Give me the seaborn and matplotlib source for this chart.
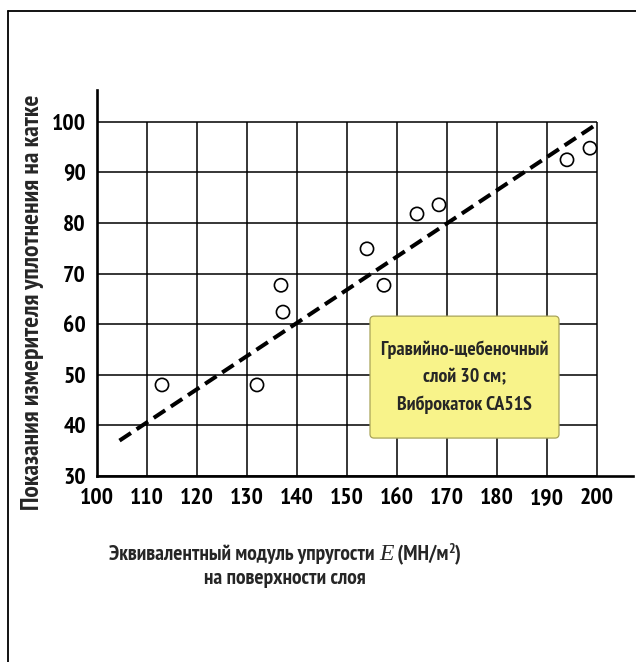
import matplotlib
matplotlib.use("Agg")
import matplotlib.pyplot as plt
from matplotlib.patches import FancyBboxPatch
from matplotlib.lines import Line2D
import seaborn as sns
import pandas as pd

# ---- data ----
modulus_E = [113, 132, 136.8, 137.2, 154, 157.4, 164, 168.4, 194, 198.6]
roller_reading = [48, 48, 67.7, 62.4, 74.9, 67.7, 81.8, 83.6, 92.5, 94.8]
trend_x = [104.5, 200]
trend_y = [37.0, 99.6]
x_ticks = [100, 110, 120, 130, 140, 150, 160, 170, 180, 190, 200]
y_ticks = [30, 40, 50, 60, 70, 80, 90, 100]
y_label = "Показания измерителя уплотнения на катке"
x_label_1a = "Эквивалентный модуль упругости "
x_label_E = "E"
x_label_1b = " (МН/м"
x_label_sup = "2"
x_label_1c = ")"
x_label_2 = "на поверхности слоя"
note_text = "Гравийно-щебеночный\nслой 30 см;\nВиброкаток CA51S"

sns.set_theme(style="white")
FAM = ["PT Sans Narrow", "Roboto Condensed", "DejaVu Sans"]
WT = "bold"
plt.rcParams["font.family"] = FAM

W, H = 636, 662
fig = plt.figure(figsize=(W / 100, H / 100), dpi=100)
fig.patch.set_facecolor("white")

def fx(px):
    return px / W

def fy(py):
    return 1 - py / H

ax = fig.add_axes([fx(97), fy(476), fx(633) - fx(97), fy(90) - fy(476)])
ax.set_facecolor("white")
ax.set_xlim(100, 207.2)
ax.set_ylim(30, 106.3)

# grid confined to the 100..200 x 30..100 block
ax.hlines(y_ticks, x_ticks[0], x_ticks[-1], colors="black", linewidth=1.1, zorder=1)
ax.vlines(x_ticks, y_ticks[0], y_ticks[-1], colors="black", linewidth=1.1, zorder=1)

df_pts = pd.DataFrame({"E": modulus_E, "R": roller_reading})
df_fit = pd.DataFrame({"E": trend_x, "R": trend_y})

sns.lineplot(data=df_fit, x="E", y="R", ax=ax, color="black", linewidth=2.9,
             linestyle=(0, (3.4, 1.7)), zorder=3)
sns.scatterplot(data=df_pts, x="E", y="R", ax=ax, s=90, facecolors="none",
                edgecolor="black", linewidth=1.2, zorder=4)

# annotation box
box = FancyBboxPatch((154.6, 37.5), 37.8, 24.1,
                     boxstyle="round,pad=0,rounding_size=0.8",
                     facecolor="#f8f38a", edgecolor="#a9a45a", linewidth=0.9,
                     zorder=5)
ax.add_patch(box)
ax.text(173.5, 49.5, note_text, ha="center", va="center", fontsize=14.2,
        fontweight=WT, linespacing=1.62, zorder=6, family=FAM)

for s in ["top", "right"]:
    ax.spines[s].set_visible(False)
for s in ["left", "bottom"]:
    ax.spines[s].set_color("black")
    ax.spines[s].set_linewidth(1.9)

ax.set_xticks(x_ticks)
ax.set_yticks(y_ticks)
ax.set_xticklabels([str(v) for v in x_ticks])
ax.set_yticklabels([str(v) for v in y_ticks])
ax.tick_params(axis="both", length=0, labelsize=17, colors="black")
ax.tick_params(axis="x", pad=9)
ax.tick_params(axis="y", pad=8)
for lab in ax.get_xticklabels() + ax.get_yticklabels():
    lab.set_fontweight(WT)
ax.set_xlabel("")
ax.set_ylabel("")

# y label
fig.text(fx(33), fy(302), y_label, rotation=90, ha="center", va="center",
         fontsize=18.5, fontweight=WT, family=FAM)

# x label line 1 (mixed fonts) centered at x=285
renderer = fig.canvas.get_renderer()
y1 = fy(560)
XL = 15.5
parts = [
    (x_label_1a, dict(fontsize=XL, fontweight=WT, family=FAM), 0),
    (x_label_E, dict(fontsize=XL + 1.5, fontstyle="italic", family=["Liberation Serif", "DejaVu Serif"]), 0),
    (x_label_1b, dict(fontsize=XL, fontweight=WT, family=FAM), 0),
    (x_label_sup, dict(fontsize=10, fontweight=WT, family=FAM), 7),
    (x_label_1c, dict(fontsize=XL, fontweight=WT, family=FAM), 0),
]
texts = []
for s, kw, dy in parts:
    t = fig.text(0, y1 + dy / H, s, ha="left", va="baseline", **kw)
    texts.append(t)
widths = [t.get_window_extent(renderer).width for t in texts]
total = sum(widths)
x0 = 285 - total / 2
for t, w in zip(texts, widths):
    t.set_x(x0 / W)
    x0 += w

fig.text(fx(285), fy(584), x_label_2, ha="center", va="baseline",
         fontsize=XL, fontweight=WT, family=FAM)

# page frame (top and left border)
fig.add_artist(Line2D([fx(8), fx(636)], [fy(11), fy(11)], color="black", linewidth=1.3,
                      transform=fig.transFigure))
fig.add_artist(Line2D([fx(8), fx(8)], [fy(11), fy(662)], color="black", linewidth=1.3,
                      transform=fig.transFigure))

fig.savefig("out.png", dpi=100, facecolor="white")
